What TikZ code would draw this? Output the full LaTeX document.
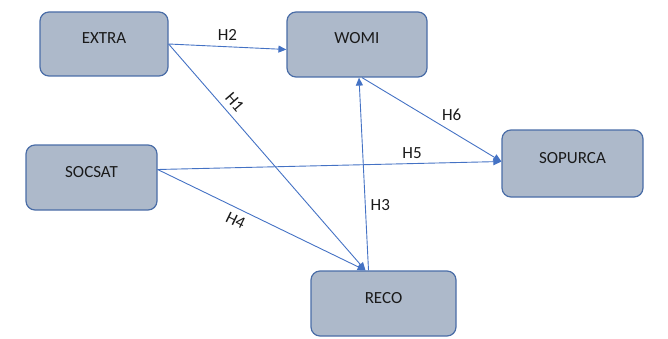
\documentclass[tikz,border=0pt]{standalone}
\usepackage{fontspec}
\setmainfont{Carlito}
\usepackage{tikz}
\usetikzlibrary{arrows.meta}
\definecolor{boxfill}{HTML}{ADB9CA}
\definecolor{boxline}{HTML}{4A6DA7}
\definecolor{arrowblue}{HTML}{4472C4}
\definecolor{textdark}{HTML}{1A1A1A}

\tikzset{
    varbox/.style={draw=boxline, line width=1.2pt, fill=boxfill, rounded corners=9pt,
        text=textdark, font=\fontsize{17}{20}\selectfont, text height=12pt, text depth=13pt},
    hyp/.style={draw=arrowblue, line width=0.9pt, -{Triangle[width=7pt,length=8pt]}},
    hyplabel/.style={text=textdark, font=\fontsize{17}{20}\selectfont, inner sep=2pt}
}

\begin{document}
\begin{tikzpicture}[x=1pt,y=1pt]
        \useasboundingbox (0,0) rectangle (668,338);
        % Variabili del modello
        \node[varbox, minimum width=128pt, minimum height=64pt] (extra) at (104,294) {EXTRA};
        \node[varbox, minimum width=140pt, minimum height=65pt] (womi) at (357,293.5) {WOMI};
        \node[varbox, minimum width=131pt, minimum height=65pt] (socsat) at (91.5,160.5) {SOCSAT};
        \node[varbox, minimum width=141pt, minimum height=67pt] (sopurca) at (572.5,174.5) {SOPURCA};
        \node[varbox, minimum width=145pt, minimum height=65pt] (reco) at (383.5,34.5) {RECO};

        % Ipotesi
        \draw[hyp] (extra.east) -- ([yshift=-5pt]womi.west) node[hyplabel, above=4pt, midway] {H2};
        \draw[hyp] (extra.east) -- ([xshift=-18pt]reco.north) node[hyplabel, sloped, above=4pt, pos=0.29] {H1};
        \draw[hyp] ([xshift=-15pt]reco.north) -- ([xshift=2pt]womi.south) node[hyplabel, right=3pt, pos=0.34] {H3};
        \draw[hyp] ([yshift=8pt]socsat.east) -- ([xshift=-18pt]reco.north) node[hyplabel, sloped, below=4pt, pos=0.40] {H4};
        \draw[hyp] ([yshift=8pt]socsat.east) -- ([yshift=2pt]sopurca.west) node[hyplabel, above=3pt, pos=0.74] {H5};
        \draw[hyp] ([xshift=5pt]womi.south) -- ([yshift=2pt]sopurca.west) node[hyplabel, above right=1pt, pos=0.55] {H6};
\end{tikzpicture}
\end{document}
